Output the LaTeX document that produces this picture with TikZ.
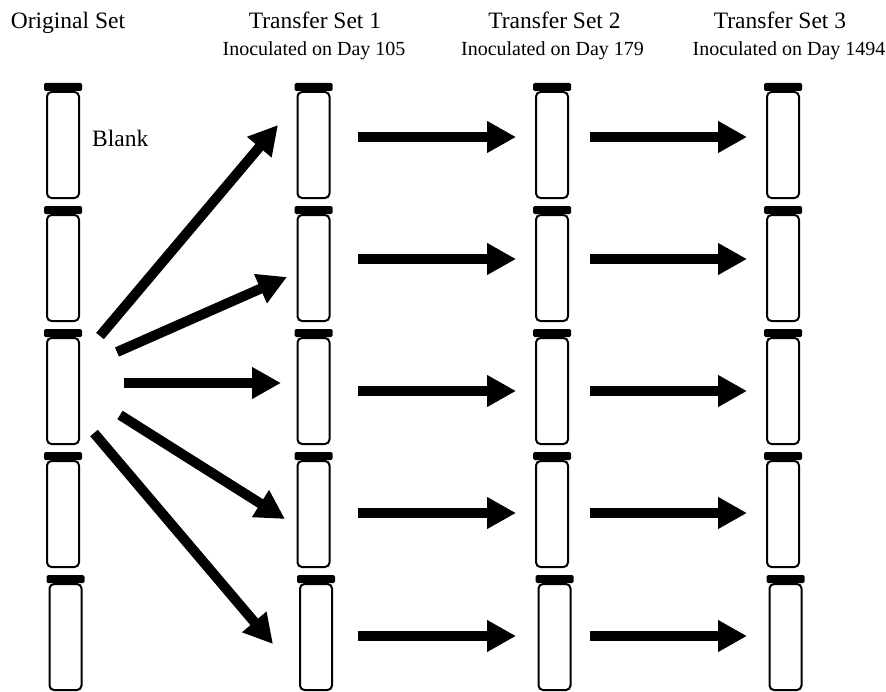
\documentclass[tikz,border=0pt]{standalone}
\usepackage{fontspec}
\setmainfont{Liberation Serif}
\usetikzlibrary{arrows.meta}
\begin{document}
\begin{tikzpicture}[x=1bp,y=-1bp,
  capbox/.style={fill=black, draw=none, minimum width=38bp, minimum height=8bp, inner sep=0pt, rounded corners=1.5bp},
  bodybox/.style={draw=black, line width=2bp, minimum width=32bp, minimum height=106bp, inner sep=0pt, rounded corners=4.5bp, fill=white},
  bigarrow/.style={line width=10bp, -{Triangle[length=29bp,width=30bp]}},
  titletext/.style={font=\fontsize{23.5bp}{28bp}\selectfont, anchor=base, inner sep=0pt},
  subtext/.style={font=\fontsize{20bp}{24bp}\selectfont, anchor=base, inner sep=0pt}]
\useasboundingbox (0,0) rectangle (886,692);
\fill[white] (0,0) rectangle (886,692);
% titles
\node[titletext] (tOrig) at (68,29) {Original Set};
\node[titletext] (tSet1) at (315,29) {Transfer Set 1};
\node[titletext] (tSet2) at (554.5,29) {Transfer Set 2};
\node[titletext] (tSet3) at (780,29) {Transfer Set 3};
\node[subtext] (sSet1) at (314,56) {Inoculated on Day 105};
\node[subtext] (sSet2) at (552.5,56) {Inoculated on Day 179};
\node[subtext] (sSet3) at (789,56) {Inoculated on Day 1494};
% tubes
\foreach \c/\cx in {0/63,1/313.5,2/552,3/783} {
  \foreach \r/\ty in {1/83,2/206,3/329,4/452,5/575} {
    \pgfmathsetmacro\xx{\cx + (\r==5)*2.5}
    \node[bodybox] (b\c\r) at (\xx,\ty+62) {};
    \node[capbox] (k\c\r) at (\xx,\ty+4) {};
  }
}
\node[titletext, anchor=base west] (blank) at (92,147) {Blank};
% diagonal arrows from the original set
\coordinate (d1s) at (100,336); \coordinate (d1e) at (278,125);
\coordinate (d2s) at (117,352); \coordinate (d2e) at (287,277);
\coordinate (d3s) at (124,383); \coordinate (d3e) at (281,383);
\coordinate (d4s) at (120,415); \coordinate (d4e) at (285,519);
\coordinate (d5s) at (94,433);  \coordinate (d5e) at (273,644);
\foreach \i in {1,...,5} {
  \draw[bigarrow] (d\i s) -- (d\i e);
}
% horizontal arrows
\foreach \r/\ay in {1/137,2/259,3/391,4/513,5/636} {
  \coordinate (pa\r) at (358,\ay); \coordinate (pb\r) at (516,\ay);
  \coordinate (qa\r) at (590,\ay); \coordinate (qb\r) at (747,\ay);
  \draw[bigarrow] (pa\r) -- (pb\r);
  \draw[bigarrow] (qa\r) -- (qb\r);
}
\end{tikzpicture}
\end{document}
